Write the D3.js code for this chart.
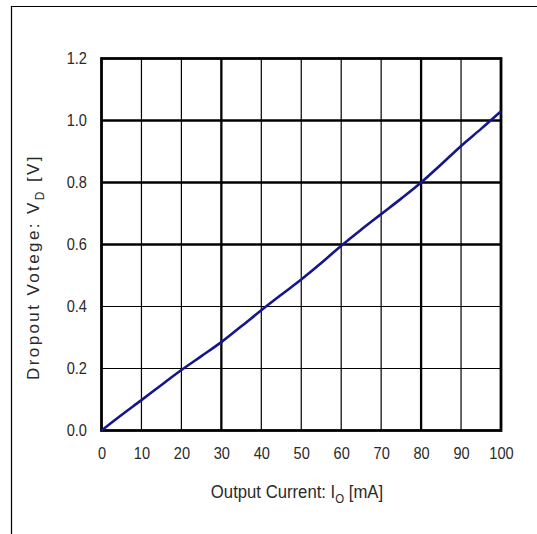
<!DOCTYPE html>
<html><head><meta charset="utf-8">
<script src="https://cdn.jsdelivr.net/npm/d3@7"></script>
<style>body{margin:0;background:#fff}svg{display:block}</style>
</head><body>
<script>
// Data
const currentMA = [0, 5, 10, 15, 20, 25, 30, 35, 40, 45, 50, 55, 60, 65, 70, 75, 80, 85, 90, 95, 100];
const dropoutV  = [0, 0.05, 0.098, 0.147, 0.195, 0.24, 0.285, 0.336, 0.388, 0.438, 0.487, 0.54, 0.596, 0.648, 0.698, 0.748, 0.80, 0.858, 0.918, 0.973, 1.03];
const xTicks = [0, 10, 20, 30, 40, 50, 60, 70, 80, 90, 100];
const yTicks = [0.0, 0.2, 0.4, 0.6, 0.8, 1.0, 1.2];
const xThick = [30, 80];
const yThick = [0.6, 0.8, 1.0];
const xLabel = "Output Current: I";
const xSub = "O";
const xLabelEnd = " [mA]";
const yLabel = "Dropout Votege: V";
const ySub = "D";
const yLabelEnd = " [V]";

const W = 537, H = 534;
const svg = d3.select("body").append("svg").attr("width", W).attr("height", H);

// outer frame (top and left edges)
svg.append("line").attr("x1", 11).attr("y1", 6.5).attr("x2", W).attr("y2", 6.5).attr("stroke", "#000").attr("stroke-width", 1.2);
svg.append("line").attr("x1", 11.5).attr("y1", 6).attr("x2", 11.5).attr("y2", H).attr("stroke", "#000").attr("stroke-width", 1.2);

const x = d3.scaleLinear().domain([0, 100]).range([101.5, 501]);
const y = d3.scaleLinear().domain([0, 1.2]).range([430.5, 58.5]);

const font = "'Liberation Sans', Arial, sans-serif";

// vertical grid
svg.append("g").selectAll("line").data(xTicks.slice(1, -1)).join("line")
  .attr("x1", d => x(d)).attr("x2", d => x(d)).attr("y1", y(1.2)).attr("y2", y(0))
  .attr("stroke", "#000").attr("stroke-width", d => xThick.includes(d) ? 2.3 : 1.2);
// horizontal grid
svg.append("g").selectAll("line").data(yTicks.slice(1, -1)).join("line")
  .attr("y1", d => y(d)).attr("y2", d => y(d)).attr("x1", x(0)).attr("x2", x(100))
  .attr("stroke", "#000").attr("stroke-width", d => yThick.includes(d) ? 2.3 : 1.2);
// plot border
svg.append("rect").attr("x", x(0)).attr("y", y(1.2)).attr("width", x(100) - x(0)).attr("height", y(0) - y(1.2))
  .attr("fill", "none").attr("stroke", "#000").attr("stroke-width", 2.8);

// axes via d3 axis generators, styled as plain labels
const xAxis = svg.append("g").attr("transform", `translate(0,${y(0) + 2})`)
  .call(d3.axisBottom(x).tickValues(xTicks).tickSize(0).tickPadding(14).tickFormat(d3.format("d")));
xAxis.select(".domain").remove();
xAxis.selectAll("text").attr("font-family", font).attr("font-size", 17).attr("fill", "#2a2a2a")
  .attr("transform", "scale(0.86,1)");

const yAxis = svg.append("g").attr("transform", `translate(87,0)`)
  .call(d3.axisLeft(y).tickValues(yTicks).tickSize(0).tickPadding(0).tickFormat(d3.format(".1f")));
yAxis.select(".domain").remove();
yAxis.selectAll("text").attr("font-family", font).attr("font-size", 17).attr("fill", "#2a2a2a")
  .attr("transform", "scale(0.86,1)");

// data line
const line = d3.line().curve(d3.curveMonotoneX).x((d, i) => x(currentMA[i])).y(d => y(d));
svg.append("path").datum(dropoutV).attr("d", line)
  .attr("fill", "none").attr("stroke", "#16168c").attr("stroke-width", 2.6).attr("stroke-linejoin", "round");

// x label
const xl = svg.append("g").attr("transform", "translate(297,498) scale(0.88,1)")
  .append("text").attr("text-anchor", "middle")
  .attr("font-family", font).attr("font-size", 19).attr("fill", "#2a2a2a");
xl.append("tspan").text(xLabel);
xl.append("tspan").attr("dy", 5).attr("font-size", 13).text(xSub);
xl.append("tspan").attr("dy", -5).text(xLabelEnd);

// y label
const yl = svg.append("text").attr("transform", "translate(39,267) rotate(-90)").attr("text-anchor", "middle")
  .attr("font-family", font).attr("font-size", 17).attr("fill", "#2a2a2a")
  .attr("letter-spacing", 2.4);
yl.append("tspan").text(yLabel);
yl.append("tspan").attr("dy", 5).attr("font-size", 12).text(ySub);
yl.append("tspan").attr("dy", -5).text(yLabelEnd);
</script>
</body></html>
